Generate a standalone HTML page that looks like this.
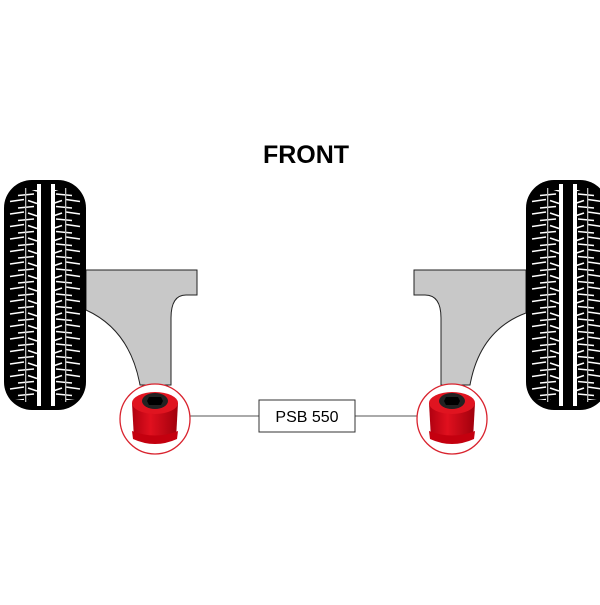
<!DOCTYPE html>
<html><head><style>html,body{margin:0;padding:0;background:#fff}</style></head>
<body>
<svg width="600" height="600" xmlns="http://www.w3.org/2000/svg">
<defs>
<pattern id="tr" x="0" y="0" width="82" height="12.5" patternUnits="userSpaceOnUse">
<g stroke="#fff" stroke-width="1.6" fill="none">
<path d="M6 9 L20 7 M14 3 L30 1.5 M24 8 L33 11"/>
<path d="M76 9 L62 7 M68 3 L52 1.5 M58 8 L49 11"/>
</g>
</pattern>
<g id="tire">
<rect x="0" y="0" width="82" height="230" rx="28" fill="#000"/>
<rect x="0" y="10" width="82" height="210" fill="url(#tr)"/>
<rect x="33" y="4" width="4" height="222" fill="#fff"/>
<rect x="47" y="4" width="4" height="222" fill="#fff"/>
<rect x="21" y="8" width="1.3" height="214" fill="#bbb"/>
<rect x="61" y="8" width="1.3" height="214" fill="#bbb"/>
</g>
<linearGradient id="rg" x1="0" x2="1">
<stop offset="0" stop-color="#b00010"/><stop offset="0.4" stop-color="#e0101e"/><stop offset="1" stop-color="#a0000c"/>
</linearGradient>
<g id="bush">
<circle cx="0" cy="0" r="35" fill="#fff" stroke="#d9232e" stroke-width="1.3"/>
<path d="M-23 -16 L-21 20 Q0 29 21 20 L23 -16 Z" fill="url(#rg)"/>
<path d="M-23 12 Q0 21 23 12 L22 20 Q0 30 -22 20 Z" fill="#c4000f"/>
<ellipse cx="0" cy="-16" rx="23" ry="11" fill="#e01420"/>
<ellipse cx="0" cy="-18" rx="13" ry="8" fill="#222"/>
<polygon points="-6,-22 6,-22 8,-18 6,-14 -6,-14 -8,-18" fill="#000"/>
</g>
</defs>

<text x="306" y="163" text-anchor="middle" font-family="Liberation Sans, sans-serif" font-weight="bold" font-size="25" fill="#000">FRONT</text>

<path d="M86 270 L197 270 L197 295 L186 295 Q171 295 171 318 L171 385 L140 385 Q130 330 86 310 Z" fill="#c8c8c8" stroke="#222" stroke-width="1"/>
<path d="M526 270 L414 270 L414 295 L425 295 Q441 295 441 318 L441 385 L470 385 Q480 330 526 313 Z" fill="#c8c8c8" stroke="#222" stroke-width="1"/>

<use href="#tire" x="4" y="180"/>
<use href="#tire" x="526" y="180"/>

<line x1="190" y1="416" x2="259" y2="416" stroke="#555" stroke-width="1"/>
<line x1="355" y1="416" x2="418" y2="416" stroke="#555" stroke-width="1"/>
<rect x="259" y="400" width="96" height="32" fill="#fff" stroke="#333" stroke-width="1"/>
<text x="307" y="422" text-anchor="middle" font-family="Liberation Sans, sans-serif" font-size="16" fill="#000">PSB 550</text>

<use href="#bush" x="155" y="419"/>
<use href="#bush" x="452" y="419"/>
</svg>
</body></html>
